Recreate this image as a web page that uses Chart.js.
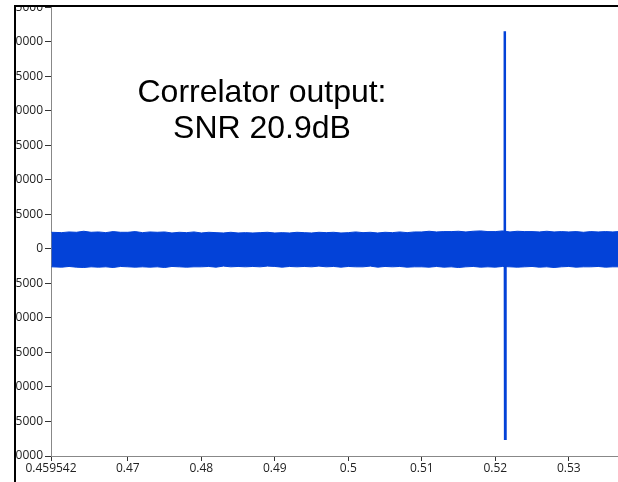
<!DOCTYPE html>
<html>
<head>
<meta charset="utf-8">
<script src="https://cdn.jsdelivr.net/npm/chart.js@4/dist/chart.umd.min.js"></script>
<style>
  html, body { margin:0; padding:0; background:#fff; width:618px; height:482px; overflow:hidden; }
  #plot { position:absolute; left:0; top:-2px; }
  .mask { position:absolute; background:#fff; }
  #frame { position:absolute; left:14px; top:5px; width:610px; height:490px;
           border-left:2px solid #000; border-top:2px solid #000; }
  #note { position:absolute; left:62px; top:73px; width:400px; text-align:center;
          font:32px "Liberation Sans", Arial, sans-serif; line-height:36px; color:#000; }
</style>
</head>
<body>
<canvas id="plot" width="618" height="484"></canvas>
<div class="mask" style="left:0;top:0;width:14px;height:482px"></div>
<div class="mask" style="left:0;top:0;width:618px;height:5px"></div>
<div id="frame"></div>
<div id="note">Correlator output:<br>SNR 20.9dB</div>

<script>
// sample times of the noise envelope (s)
const times = [0.4596,0.461,0.462,0.463,0.464,0.465,0.466,0.467,0.468,0.469,
  0.470,0.471,0.472,0.473,0.474,0.475,0.476,0.477,0.478,0.479,
  0.480,0.481,0.482,0.483,0.484,0.485,0.486,0.487,0.488,0.489,
  0.490,0.491,0.492,0.493,0.494,0.495,0.496,0.497,0.498,0.499,
  0.500,0.501,0.502,0.503,0.504,0.505,0.506,0.507,0.508,0.509,
  0.510,0.511,0.512,0.513,0.514,0.515,0.516,0.517,0.518,0.519,
  0.520,0.521,0.522,0.523,0.524,0.525,0.526,0.527,0.528,0.529,
  0.530,0.531,0.532,0.533,0.534,0.535,0.536,0.5367];

// upper / lower edge of the noise band
const upper = [2400,2350,2450,2400,2550,2400,2450,2350,2500,2400,
  2400,2500,2350,2450,2400,2450,2300,2400,2350,2450,
  2300,2400,2350,2300,2400,2300,2350,2300,2350,2400,
  2300,2350,2300,2400,2350,2300,2400,2350,2400,2300,
  2350,2450,2350,2400,2300,2400,2350,2450,2350,2450,
  2450,2550,2450,2500,2500,2550,2450,2550,2600,2500,
  2500,2600,2450,2550,2500,2500,2450,2550,2450,2500,
  2450,2500,2400,2500,2450,2500,2450,2500];
const lower = [-2600,-2650,-2550,-2650,-2700,-2600,-2650,-2600,-2700,-2550,
  -2600,-2650,-2600,-2650,-2600,-2700,-2550,-2600,-2650,-2600,
  -2600,-2550,-2650,-2500,-2600,-2550,-2600,-2550,-2600,-2500,
  -2550,-2650,-2550,-2600,-2550,-2600,-2500,-2600,-2550,-2650,
  -2550,-2600,-2600,-2500,-2650,-2550,-2600,-2550,-2650,-2600,
  -2600,-2650,-2550,-2650,-2600,-2700,-2600,-2550,-2650,-2600,
  -2650,-2550,-2600,-2650,-2600,-2550,-2650,-2600,-2700,-2600,
  -2550,-2650,-2600,-2600,-2550,-2650,-2600,-2600];

// correlation peak
const spikeT = [0.52124,0.52127,0.52130,0.52132,0.52134,0.52136,0.52139,0.52142];
const spikeV = [0,9400,31500,9400,-27500,-7000,0,0];

const xTicks = [0.459542,0.47,0.48,0.49,0.5,0.51,0.52,0.53];

const blue = "#0342d8";

Chart.defaults.font.family = "'Open Sans', sans-serif";
Chart.defaults.font.size = 12;
Chart.defaults.color = "#222";

const pts = (xs, ys) => xs.map((x,i)=>({x:x, y:ys[i]}));

new Chart(document.getElementById("plot"), {
  type: "line",
  data: {
    datasets: [
      { data: pts(times, upper), borderColor: blue, backgroundColor: blue,
        borderWidth: 1, pointRadius: 0, fill: "+1", tension: 0 },
      { data: pts(times, lower), borderColor: blue, backgroundColor: blue,
        borderWidth: 1, pointRadius: 0, fill: false, tension: 0 },
      { data: pts(spikeT, spikeV), borderColor: blue,
        borderWidth: 2.5, pointRadius: 0, fill: false, tension: 0 }
    ]
  },
  options: {
    responsive: false,
    animation: false,
    layout: { padding: 0 },
    plugins: { legend: { display: false }, tooltip: { enabled: false } },
    scales: {
      x: {
        type: "linear",
        min: 0.459542, max: 0.5367,
        afterBuildTicks: s => { s.ticks = xTicks.map(v => ({ value: v })); },
        afterFit: s => { s.height = 26; },
        ticks: { autoSkip: false, maxRotation: 0, padding: 0,
                 callback: v => String(v) },
        grid: { drawOnChartArea: false, tickLength: 5, tickColor: "#333" },
        border: { color: "#888", width: 1 }
      },
      y: {
        min: -30000, max: 35000,
        afterFit: s => { s.width = 51; },
        ticks: { stepSize: 5000, padding: 2, callback: v => String(v) },
        grid: { drawOnChartArea: false, tickLength: 6, tickColor: "#333" },
        border: { color: "#888", width: 1 }
      }
    }
  }
});
</script>
</body>
</html>
